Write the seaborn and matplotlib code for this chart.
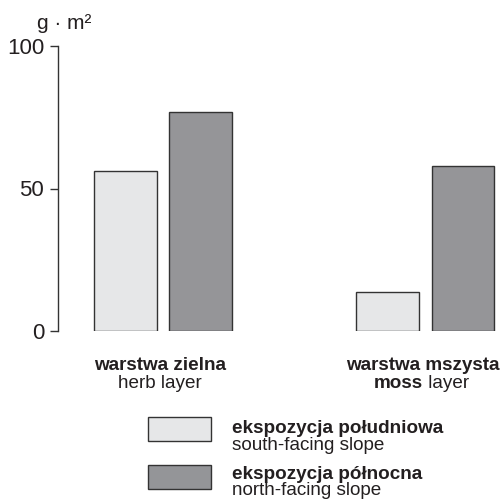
import matplotlib
matplotlib.use("Agg")
import matplotlib.pyplot as plt
import matplotlib.transforms as mtransforms
from matplotlib.patches import Rectangle
import pandas as pd
import seaborn as sns

# ── data ─────────────────────────────────────────────────────────────────────
layers = ["herb", "moss"]
slopes = ["south", "north"]
south_vals = [56, 13.8]
north_vals = [77, 58]
y_ticks = [0, 50, 100]
unit_label = "g · m²"
layer_pl = ["warstwa zielna", "warstwa mszysta"]
slope_pl = ["ekspozycja południowa", "ekspozycja północna"]
slope_en = ["south-facing slope", "north-facing slope"]

colors = {"south": "#e6e7e8", "north": "#949598"}
edge = "#333333"

df = pd.DataFrame({
    "layer": layers * 2,
    "slope": ["south"] * 2 + ["north"] * 2,
    "value": south_vals + north_vals,
})

sns.set_style("white")
plt.rcParams["font.family"] = ["Liberation Sans", "DejaVu Sans"]

W, H = 502, 501
fig = plt.figure(figsize=(W / 100, H / 100), dpi=100)

def fx(px):
    return px / W

def fy(py):
    return 1 - py / H

ax = fig.add_axes([fx(58), fy(331), fx(496) - fx(58), fy(46) - fy(331)])
sns.barplot(data=df, x="layer", y="value", hue="slope", hue_order=slopes,
            order=layers, palette=colors, width=0.574, gap=0.17,
            edgecolor=edge, linewidth=1.0, legend=False, ax=ax)

ax.set_ylim(0, 100)
ax.set_xlim(-0.40, 1.27)
ax.set_yticks(y_ticks)
ax.set_xticks([])
ax.set_xlabel("")
ax.set_ylabel("")
for s in ["top", "right", "bottom"]:
    ax.spines[s].set_visible(False)
ax.spines["left"].set_color(edge)
ax.spines["left"].set_linewidth(1.0)
ax.tick_params(axis="y", direction="out", length=6, width=1.0, color=edge,
               pad=4, labelsize=16, labelcolor="#231f20", left=True)

fig.text(fx(37), fy(29), unit_label, fontsize=15, color="#231f20",
         ha="left", va="baseline")

# category labels under the groups
trans = mtransforms.blended_transform_factory(ax.transData, fig.transFigure)
fs = 13.6
tc = "#231f20"
for i, name in enumerate(layer_pl):
    ax.text(i - 0.01, fy(370), name, transform=trans, ha="center",
            va="baseline", fontsize=fs, fontweight="bold", color=tc)
ax.text(-0.01, fy(388), "herb layer", transform=trans, ha="center",
        va="baseline", fontsize=fs, color=tc)

# "moss layer" -> bold + regular, centred as one string
r = fig.canvas.get_renderer()
t1 = ax.text(1, fy(388), "moss", transform=trans, ha="left", va="baseline",
             fontsize=fs, fontweight="bold", color=tc)
t2 = ax.text(1, fy(388), " layer", transform=trans, ha="left",
             va="baseline", fontsize=fs, color=tc)
w1 = t1.get_window_extent(r).width
w2 = t2.get_window_extent(r).width
x0 = ax.transData.transform((0.985, 0))[0] - (w1 + w2) / 2
t1.set_transform(mtransforms.blended_transform_factory(
    mtransforms.IdentityTransform(), fig.transFigure))
t1.set_x(x0)
t2.set_transform(mtransforms.blended_transform_factory(
    mtransforms.IdentityTransform(), fig.transFigure))
t2.set_x(x0 + w1)

# legend drawn by hand (two-line labels, bold first line)
box_top = [417, 465]
bold_base = [433, 479]
reg_base = [450, 495]
for i, s in enumerate(slopes):
    fig.add_artist(Rectangle((fx(148), fy(box_top[i] + 24)),
                             fx(211) - fx(148), fy(box_top[i]) - fy(box_top[i] + 24),
                             transform=fig.transFigure, facecolor=colors[s],
                             edgecolor=edge, linewidth=1.0))
    fig.text(fx(232), fy(bold_base[i]), slope_pl[i], fontsize=fs,
             fontweight="bold", color=tc, va="baseline")
    fig.text(fx(232), fy(reg_base[i]), slope_en[i], fontsize=fs,
             color=tc, va="baseline")

plt.savefig("out.png", dpi=100)
plt.close()
